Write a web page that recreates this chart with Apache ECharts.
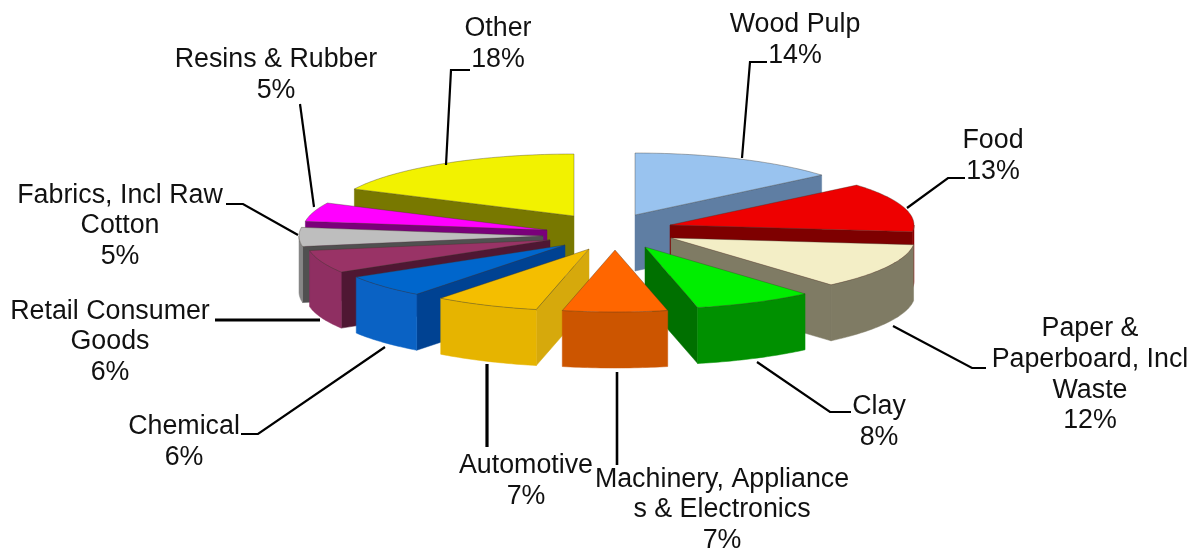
<!DOCTYPE html>
<html>
<head>
<meta charset="utf-8">
<title>Share by category</title>
<script src="https://cdn.jsdelivr.net/npm/echarts@6/dist/echarts.min.js"></script>
<style>
  html, body { margin: 0; padding: 0; background: #fff; }
  #main { width: 1197px; height: 551px; }
</style>
</head>
<body>
<div id="main"></div>
<script>
// data
const categories = ['Wood Pulp', 'Food', 'Paper & Paperboard, Incl Waste', 'Clay', 'Machinery, Appliances & Electronics',
    'Automotive', 'Chemical', 'Retail Consumer Goods', 'Fabrics, Incl Raw Cotton', 'Resins & Rubber', 'Other'];
const percents = [14, 13, 12, 8, 7, 7, 6, 6, 5, 5, 18];

// how the labels break, same order as categories
const labelLines = [
    ['Wood Pulp'], ['Food'], ['Paper &', 'Paperboard, Incl', 'Waste'], ['Clay'],
    ['Machinery, Appliance', 's & Electronics'], ['Automotive'], ['Chemical'],
    ['Retail Consumer', 'Goods'], ['Fabrics, Incl Raw', 'Cotton'], ['Resins & Rubber'], ['Other']
];

// pie layout
const pieCenter = [610, 235];
const radiusX = 244;
const radiusY = 62;
const depth = 56;
const sliceShift = [[25, -20], [60, -10], [61, 3], [35, 12], [5, 15], [-21, 14], [-45, 10], [-60, 5], [-67, 1], [-63, -5], [-36, -19]];

const topColors = ['#99C3EF', '#EE0000', '#F3EEC6', '#00EE00', '#FF6600', '#F4BE00', '#0066CC', '#993366', '#BEBEBE', '#FF00FF', '#F2F200'];
const arcColors = ['#5F7EA3', '#8C0000', '#7F7B64', '#009000', '#CC5500', '#E6B400', '#0A62C4', '#8F2F62', '#868686', '#800080', '#787800'];
const wallColors = ['#5F7EA3', '#7E0000', '#7F7B64', '#007000', '#CC5500', '#D6A90C', '#004292', '#4F1733', '#505050', '#7A007A', '#787800'];

// label block centres and leader lines
const labelPos = [[795, 40], [993, 156], [1090, 375], [879, 422], [722, 510], [526, 481], [184, 442], [110, 342], [120, 226], [276, 75], [498, 44]];
const leaders = [
    [[742, 158], [750, 62], [767, 62]],
    [[907, 208], [948, 178], [965, 178]],
    [[893, 326], [972, 368], [986, 368]],
    [[757, 362], [830, 412], [851, 412]],
    [[617, 372], [617, 465]],
    [[487, 364], [487, 447]],
    [[385, 347], [258, 434], [241, 434]],
    [[320, 320], [215, 320]],
    [[298, 235], [243, 204], [226, 204]],
    [[314, 207], [300, 104]],
    [[446, 165], [451, 70], [470, 70]]
];
const leaderWidths = [2.2, 2.2, 2.2, 2.2, 2.6, 3.2, 2.2, 3.2, 2.2, 2.2, 2.2];

const total = percents.reduce((a, b) => a + b, 0);
const startAngles = [];
let sum = 0;
percents.forEach(v => { startAngles.push(sum / total * 360); sum += v; });

// back slices first, so the nearer ones cover them
const paintOrder = categories.map((c, i) => i).sort((a, b) => {
    const mid = i => (startAngles[i] + percents[i] / total * 180) * Math.PI / 180;
    return -Math.cos(mid(a)) + Math.cos(mid(b));
});

function rimPoint(ox, oy, deg) {
    const t = deg * Math.PI / 180;
    return [ox + radiusX * Math.sin(t), oy - radiusY * Math.cos(t)];
}

function arcPoints(ox, oy, from, to) {
    const pts = [];
    const steps = Math.max(2, Math.ceil(Math.abs(to - from)));
    for (let k = 0; k <= steps; k++) pts.push(rimPoint(ox, oy, from + (to - from) * k / steps));
    return pts;
}

function renderSlice(params, api) {
    const i = api.value(0);
    const a0 = startAngles[i];
    const a1 = a0 + api.value(1) / total * 360;
    const ox = pieCenter[0] + sliceShift[i][0];
    const oy = pieCenter[1] + sliceShift[i][1];
    const children = [];
    const drop = p => [p[0], p[1] + depth];
    const wall = (deg) => {
        const r = rimPoint(ox, oy, deg);
        children.push({
            type: 'polygon',
            shape: { points: [[ox, oy], r, drop(r), [ox, oy + depth]] },
            style: { fill: wallColors[i], stroke: wallColors[i], lineWidth: 0.5 }
        });
    };
    // only faces turned towards the viewer get drawn
    if (a0 > 180) wall(a0);
    if (a1 < 180) wall(a1);
    const from = Math.max(a0, 90);
    const to = Math.min(a1, 270);
    if (to > from) {
        const rim = arcPoints(ox, oy, from, to);
        children.push({
            type: 'polygon',
            shape: { points: rim.concat(rim.map(drop).reverse()) },
            style: { fill: arcColors[i], stroke: arcColors[i], lineWidth: 0.5 }
        });
    }
    children.push({
        type: 'polygon',
        shape: { points: [[ox, oy]].concat(arcPoints(ox, oy, a0, a1)) },
        style: { fill: topColors[i], stroke: 'rgba(60,50,40,0.45)', lineWidth: 0.8 }
    });
    return { type: 'group', children: children };
}

const graphics = [];
leaders.forEach((points, i) => {
    graphics.push({
        type: 'polyline',
        z: 5,
        shape: { points: points },
        style: { stroke: '#000', fill: null, lineWidth: leaderWidths[i] }
    });
});
categories.forEach((name, i) => {
    graphics.push({
        type: 'text',
        z: 6,
        x: labelPos[i][0],
        y: labelPos[i][1],
        style: {
            text: labelLines[i].concat(percents[i] + '%').join('\n'),
            font: '26.8px "Liberation Sans", Arial, sans-serif',
            lineHeight: 30.7,
            fill: '#111',
            align: 'center',
            verticalAlign: 'middle'
        }
    });
});

const chart = echarts.init(document.getElementById('main'));
chart.setOption({
    backgroundColor: '#fff',
    animation: false,
    graphic: graphics,
    series: [{
        type: 'custom',
        coordinateSystem: 'none',
        renderItem: renderSlice,
        encode: { value: 1 },
        silent: true,
        data: paintOrder.map(i => [i, percents[i]])
    }]
});
</script>
</body>
</html>
